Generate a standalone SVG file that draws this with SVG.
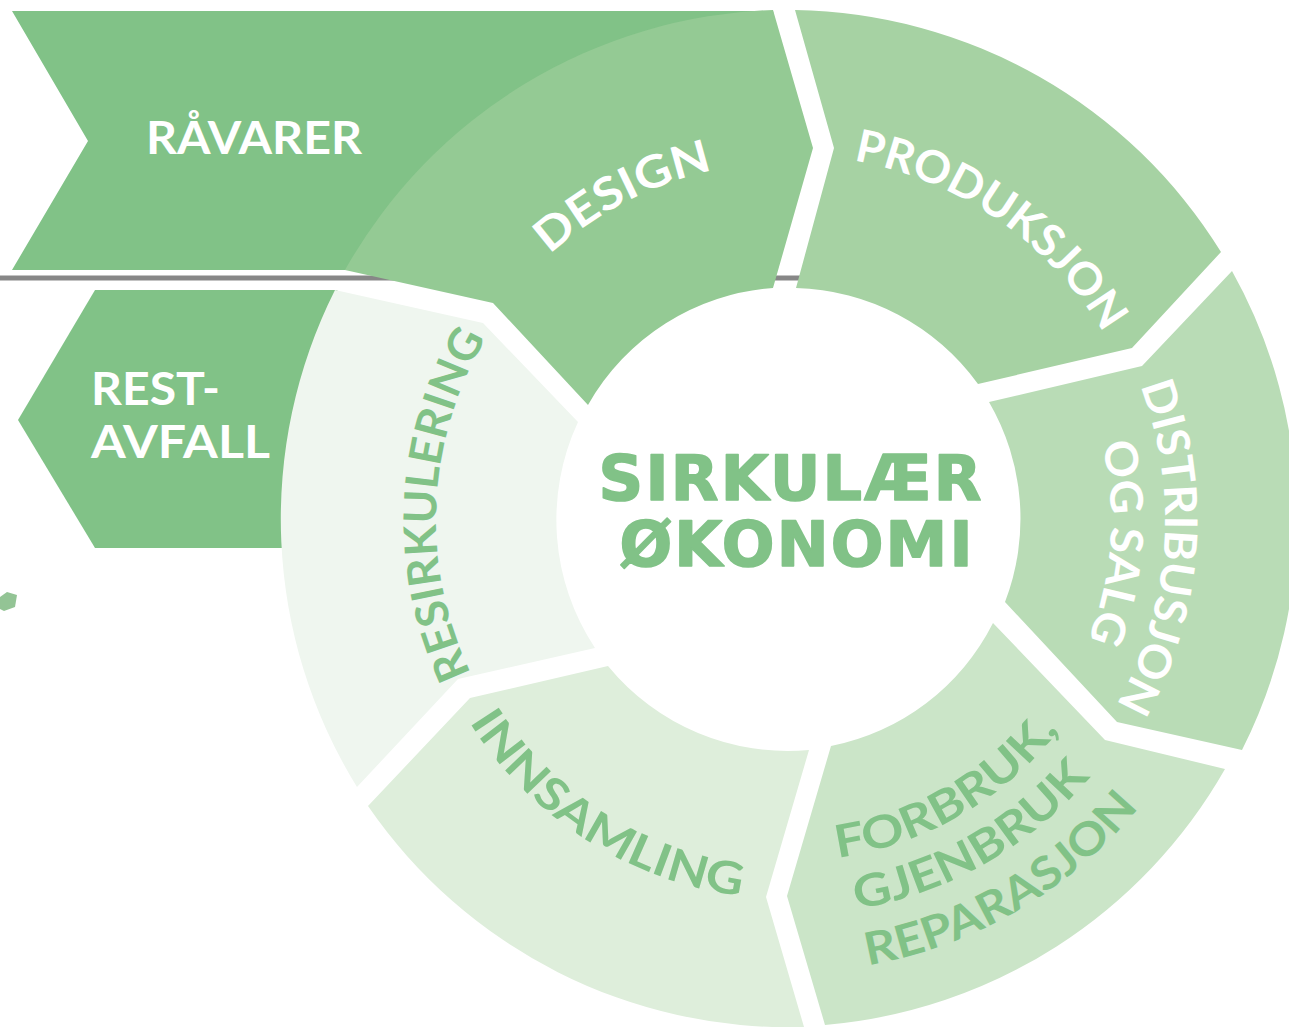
<svg xmlns="http://www.w3.org/2000/svg" width="1289" height="1027" viewBox="0 0 1289 1027">
<style>
.lbl{font-family:Lato,"Open Sans","DejaVu Sans",sans-serif;font-weight:700;font-size:45px}
.w{fill:#ffffff}
.g{fill:#81c287}
.ctr{font-family:"DejaVu Sans","Liberation Sans",sans-serif;font-weight:700;font-size:62px;fill:#81c287;stroke:#81c287;stroke-width:1.6;stroke-linejoin:round}
</style>
<defs>
<path id="pDesign" d="M432.4,503.1 A358,358 0 0 1 983.4,218.7"/>
<path id="pProd" d="M633.5,190.3 A365,365 0 0 1 1153.8,549.3"/>
<path id="pDist" d="M1001.3,210.2 A375,375 0 0 1 952.6,857.9"/>
<path id="pSalg" d="M969.5,253.9 A321,321 0 0 1 930.7,808.5"/>
<path id="pResirk" d="M599.3,818.2 A354,354 0 0 1 627.1,205.7"/>
<path id="pInns" d="M411.4,502.8 A379,379 0 0 0 964.4,856.5"/>
<path id="pForb" d="M619.5,815.3 A341,341 0 0 0 1131,520"/>
<path id="pGjen" d="M590.1,860.7 A395,395 0 0 0 1185,522.8"/>
<path id="pRep" d="M565.4,912.2 A452,452 0 0 0 1242,518.4"/>
</defs>
<rect width="1289" height="1027" fill="#ffffff"/>
<g id="divider">
<line x1="0" y1="278" x2="800" y2="278" stroke="#878787" stroke-width="5"/>
</g>
<g id="fragment">
<polygon points="0,597 7,592 17,595 15,607 4,611 0,609" fill="#93c495"/>
</g>
<g id="ravarer">
<polygon points="12,11 773,11 800,148 560,270 12,270 88,141" fill="#81c287"/>
<text class="lbl w" x="146" y="154" textLength="216" lengthAdjust="spacingAndGlyphs">RÅVARER</text>
</g>
<g id="restavfall">
<polygon points="95,290 336,290 420,330 420,548 95,548 18,420" fill="#81c287"/>
<text class="lbl w" x="91" y="405" textLength="129" lengthAdjust="spacingAndGlyphs">REST-</text>
<text class="lbl w" x="91" y="458" textLength="179" lengthAdjust="spacingAndGlyphs">AVFALL</text>
</g>
<g id="design">
<path d="M345,270 A510,510 0 0 1 773,10 L813,148 L773,288 A232,232 0 0 0 588,405 L493,303 Z" fill="#94ca94"/>
<text class="lbl w"><textPath href="#pDesign" startOffset="50%" text-anchor="middle" textLength="186" lengthAdjust="spacingAndGlyphs">DESIGN</textPath></text>
</g>
<g id="produksjon">
<path d="M795,10 A510,510 0 0 1 1221,252 L1132,348 L978,384 A232,232 0 0 0 796,288 L834,148 Z" fill="#a6d2a3"/>
<text class="lbl w"><textPath href="#pProd" startOffset="50%" text-anchor="middle" textLength="313" lengthAdjust="spacingAndGlyphs">PRODUKSJON</textPath></text>
</g>
<g id="distribusjon">
<path d="M1232,271 A510,510 0 0 1 1242,750 L1117,722 L1005,602 A232,232 0 0 0 989,402 L1142,366 Z" fill="#b9dcb6"/>
<text class="lbl w"><textPath href="#pDist" startOffset="50%" text-anchor="middle" textLength="331" lengthAdjust="spacingAndGlyphs">DISTRIBUSJON</textPath></text>
<text class="lbl w"><textPath href="#pSalg" startOffset="50%" text-anchor="middle" textLength="200" lengthAdjust="spacingAndGlyphs">OG SALG</textPath></text>
</g>
<g id="forbruk">
<path d="M1225,769 A510,510 0 0 1 825,1025 L787,896 L831,746 A232,232 0 0 0 993,623 L1105,740 Z" fill="#cbe5c8"/>
<text class="lbl g"><textPath href="#pForb" startOffset="50%" text-anchor="middle" textLength="262" lengthAdjust="spacingAndGlyphs">FORBRUK,</textPath></text>
<text class="lbl g"><textPath href="#pGjen" startOffset="50%" text-anchor="middle" textLength="274" lengthAdjust="spacingAndGlyphs">GJENBRUK</textPath></text>
<text class="lbl g"><textPath href="#pRep" startOffset="50%" text-anchor="middle" textLength="320" lengthAdjust="spacingAndGlyphs">REPARASJON</textPath></text>
</g>
<g id="innsamling">
<path d="M804,1027 A510,510 0 0 1 368,806 L470,698 L608,666 A232,232 0 0 0 809,750 L766,897 Z" fill="#deeedb"/>
<text class="lbl g"><textPath href="#pInns" startOffset="50%" text-anchor="middle" textLength="333" lengthAdjust="spacingAndGlyphs">INNSAMLING</textPath></text>
</g>
<g id="resirkulering">
<path d="M357,787 A510,510 0 0 1 335,290 L483,323 L578,422 A232,232 0 0 0 595,648 L458,679 Z" fill="#eff6ef"/>
<text class="lbl g"><textPath href="#pResirk" startOffset="50%" text-anchor="middle" textLength="349" lengthAdjust="spacingAndGlyphs">RESIRKULERING</textPath></text>
</g>
<g id="center">
<text class="ctr" x="790" y="500" text-anchor="middle" textLength="383" lengthAdjust="spacing">SIRKULÆR</text>
<text class="ctr" x="796" y="566" text-anchor="middle" textLength="353" lengthAdjust="spacing">ØKONOMI</text>
</g>
</svg>
